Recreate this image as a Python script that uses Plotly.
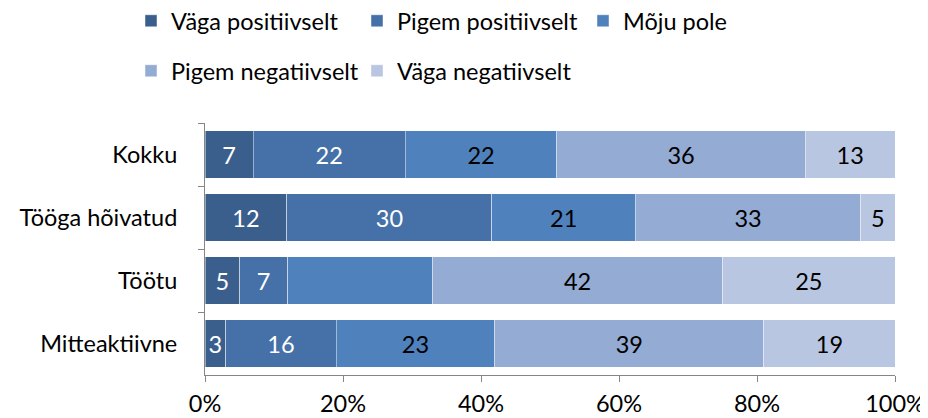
import plotly.graph_objects as go

categories = ["Kokku", "Tööga hõivatud", "Töötu", "Mitteaktiivne"]
series_names = ["Väga positiivselt", "Pigem positiivselt", "Mõju pole",
                "Pigem negatiivselt", "Väga negatiivselt"]
vaga_pos = [7, 12, 5, 3]
pigem_pos = [22, 30, 7, 16]
moju_pole = [22, 21, 21, 23]
pigem_neg = [36, 33, 42, 39]
vaga_neg = [13, 5, 25, 19]
# labels shown in bars (None = label not shown in original)
moju_pole_labels = ["22", "21", None, "23"]
tick_vals = [0, 20, 40, 60, 80, 100]
tick_text = ["0%", "20%", "40%", "60%", "80%", "100%"]

colors = ["#3A5F8D", "#4571A8", "#4F81BD", "#94ABD3", "#B9C6E1"]
text_colors = ["white", "white", "black", "black", "black"]
FONT = "Lato, Calibri, sans-serif"
FS = 23.5

series_values = [vaga_pos, pigem_pos, moju_pole, pigem_neg, vaga_neg]
series_labels = [
    [str(v) for v in vaga_pos],
    [str(v) for v in pigem_pos],
    [t if t is not None else "" for t in moju_pole_labels],
    [str(v) for v in pigem_neg],
    [str(v) for v in vaga_neg],
]

W, H = 920, 410  # page body adds an 8px offset

fig = go.Figure()
for i, (name, vals, labs) in enumerate(zip(series_names, series_values, series_labels)):
    fig.add_trace(go.Bar(
        y=categories, x=vals, name=name, orientation="h",
        marker=dict(color=colors[i], line=dict(color="rgba(255,255,255,0.45)", width=1)),
        text=labs, textposition="inside", insidetextanchor="middle",
        textangle=0, constraintext="none",
        textfont=dict(color=text_colors[i], size=FS, family=FONT),
        legend="legend" if i < 3 else "legend2",
        hoverinfo="skip",
    ))

leg_common = dict(orientation="h", xref="container", yref="container",
                  xanchor="left", yanchor="middle",
                  entrywidth=181, entrywidthmode="pixels",
                  font=dict(size=FS, family=FONT), traceorder="normal",
                  bgcolor="rgba(0,0,0,0)")

fig.update_layout(
    width=W, height=H,
    barmode="stack", barnorm="percent", bargap=0.25,
    plot_bgcolor="white", paper_bgcolor="white",
    margin=dict(l=197, r=33, t=115, b=43, autoexpand=False),
    font=dict(family=FONT, size=FS, color="black"),
    uniformtext=dict(minsize=FS, mode="show"),
    legend=dict(x=123 / W, y=1 - 13 / H, **leg_common),
    legend2=dict(x=123 / W, y=1 - 63 / H, **leg_common),
    showlegend=True,
)
fig.update_xaxes(range=[0, 100], tickvals=tick_vals, ticktext=tick_text,
                 showgrid=False, zeroline=False, showline=True,
                 linecolor="#868686", linewidth=1, ticks="outside",
                 ticklen=6, tickcolor="#868686", automargin=False,
                 ticklabelstandoff=2,
                 tickfont=dict(size=FS, family=FONT, color="black"), fixedrange=True)
fig.update_yaxes(autorange="reversed", showgrid=False, showline=True,
                 linecolor="#868686", linewidth=1, ticks="outside",
                 tickson="boundaries", ticklen=6, tickcolor="#868686",
                 automargin=False, ticklabelstandoff=22,
                 tickfont=dict(size=FS, family=FONT, color="black"), fixedrange=True)

fig.write_html("out.html")
